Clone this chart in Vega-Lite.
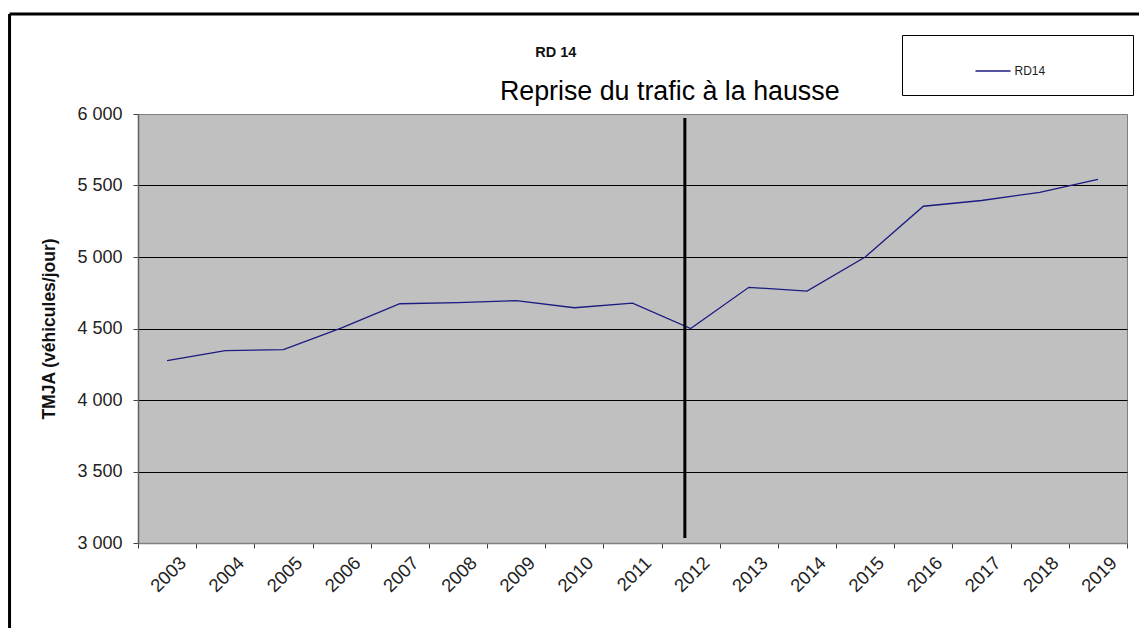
{
  "$schema": "https://vega.github.io/schema/vega-lite/v6.json",
  "width": 989,
  "height": 429,
  "autosize": {"type": "none"},
  "padding": {"left": 138, "top": 114, "right": 12, "bottom": 85},
  "background": "white",
  "config": {
    "font": "Liberation Sans",
    "view": {"fill": "#C0C0C0", "stroke": "#808080", "strokeWidth": 1},
    "axis": {"labelFont": "Liberation Sans", "titleFont": "Liberation Sans"}
  },
  "data": {
    "values": [
      {"year": 2003, "tmja": 4276, "serie": "RD14"},
      {"year": 2004, "tmja": 4345, "serie": "RD14"},
      {"year": 2005, "tmja": 4352, "serie": "RD14"},
      {"year": 2006, "tmja": 4505, "serie": "RD14"},
      {"year": 2007, "tmja": 4673, "serie": "RD14"},
      {"year": 2008, "tmja": 4681, "serie": "RD14"},
      {"year": 2009, "tmja": 4695, "serie": "RD14"},
      {"year": 2010, "tmja": 4645, "serie": "RD14"},
      {"year": 2011, "tmja": 4678, "serie": "RD14"},
      {"year": 2012, "tmja": 4500, "serie": "RD14"},
      {"year": 2013, "tmja": 4788, "serie": "RD14"},
      {"year": 2014, "tmja": 4762, "serie": "RD14"},
      {"year": 2015, "tmja": 5000, "serie": "RD14"},
      {"year": 2016, "tmja": 5355, "serie": "RD14"},
      {"year": 2017, "tmja": 5395, "serie": "RD14"},
      {"year": 2018, "tmja": 5452, "serie": "RD14"},
      {"year": 2019, "tmja": 5543, "serie": "RD14"}
    ]
  },
  "layer": [
    {
      "mark": {"type": "line", "strokeWidth": 1.3},
      "encoding": {
        "x": {
          "field": "year",
          "type": "ordinal",
          "scale": {"paddingInner": 0, "paddingOuter": 0},
          "axis": {
            "title": null,
            "tickBand": "extent",
            "domainColor": "#808080",
            "domainWidth": 1.5,
            "tickColor": "#404040",
            "tickSize": 5,
            "labelAngle": -45,
            "labelAlign": "right",
            "labelBaseline": "top",
            "labelPadding": 5,
            "labelOffset": 9,
            "labelFontSize": 18.5,
            "labelColor": "#222222"
          }
        },
        "y": {
          "field": "tmja",
          "type": "quantitative",
          "scale": {"domain": [3000, 6000], "nice": false, "zero": false},
          "axis": {
            "title": "TMJA (véhicules/jour)",
            "titleFontSize": 17.5,
            "titleFontWeight": "bold",
            "titleColor": "#111111",
            "titlePadding": 18,
            "values": [3000, 3500, 4000, 4500, 5000, 5500, 6000],
            "labelExpr": "replace(format(datum.value, ','), ',', ' ')",
            "labelFontSize": 18,
            "labelColor": "#222222",
            "labelPadding": 11,
            "domainColor": "#606060",
            "domainWidth": 1.5,
            "tickColor": "#404040",
            "tickSize": 5,
            "grid": true,
            "gridColor": {"condition": {"test": "datum.value == 6000 || datum.value == 3000", "value": "#808080"}, "value": "#000000"},
            "gridWidth": 1,
            "gridOpacity": 1
          }
        },
        "color": {
          "field": "serie",
          "type": "nominal",
          "scale": {"range": ["#1a1a80"]},
          "legend": {
            "title": null,
            "orient": "none",
            "legendX": 764,
            "legendY": -79,
            "fillColor": "white",
            "strokeColor": "#000000",
            "padding": 17.5,
            "symbolType": "stroke",
            "symbolSize": 1225,
            "symbolStrokeWidth": 1.3,
            "symbolOffset": 55,
            "labelOffset": 3,
            "labelFontSize": 12,
            "labelColor": "#222222",
            "labelExpr": "datum.label + '\u00a0\u00a0\u00a0\u00a0\u00a0\u00a0\u00a0\u00a0\u00a0\u00a0\u00a0\u00a0\u00a0\u00a0\u00a0\u00a0\u00a0\u00a0\u00a0\u00a0\u00a0\u200b'"
          }
        }
      }
    },
    {
      "data": {"values": [{}]},
      "mark": {"type": "rule", "color": "#000000", "strokeWidth": 3},
      "encoding": {
        "x": {"datum": 2012, "type": "ordinal", "bandPosition": 0.4},
        "y": {"datum": 5972, "type": "quantitative"},
        "y2": {"datum": 3035}
      }
    },
    {
      "data": {"values": [{}]},
      "mark": {"type": "text", "text": "RD 14", "font": "Liberation Sans", "fontSize": 14.5, "fontWeight": "bold", "align": "center", "baseline": "alphabetic", "dy": -57, "color": "#111111"},
      "encoding": {
        "x": {"datum": 2010, "type": "ordinal", "bandPosition": 0.18},
        "y": {"datum": 6000, "type": "quantitative"}
      }
    },
    {
      "data": {"values": [{}]},
      "mark": {"type": "text", "text": "Reprise du trafic à la hausse", "font": "Liberation Sans", "fontSize": 26.8, "align": "center", "baseline": "alphabetic", "dy": -14, "color": "#000000"},
      "encoding": {
        "x": {"datum": 2012, "type": "ordinal", "bandPosition": 0.14},
        "y": {"datum": 6000, "type": "quantitative"}
      }
    },
    {
      "data": {"values": [{}]},
      "mark": {"type": "rule", "color": "#000000", "strokeWidth": 3},
      "encoding": {
        "x": {"datum": 2003, "type": "ordinal", "bandPosition": -2.208},
        "x2": {"datum": 2019, "bandPosition": 1.5},
        "y": {"datum": 6700, "type": "quantitative"}
      }
    },
    {
      "data": {"values": [{}]},
      "mark": {"type": "rule", "color": "#000000", "strokeWidth": 3},
      "encoding": {
        "x": {"datum": 2003, "type": "ordinal", "bandPosition": -2.208},
        "y": {"datum": 6700, "type": "quantitative"},
        "y2": {"datum": 2300}
      }
    }
  ]
}
